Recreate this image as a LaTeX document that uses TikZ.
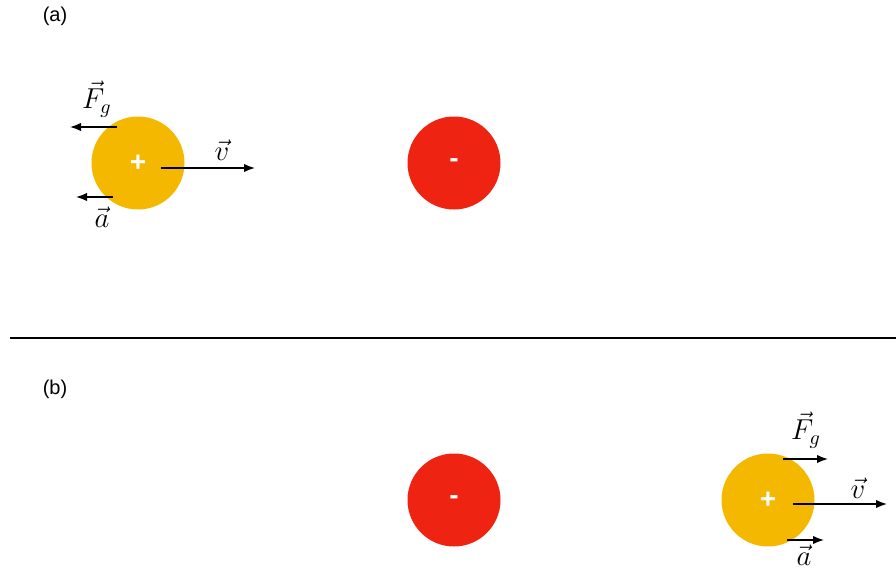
\documentclass[tikz,border=0pt]{standalone}
\usepackage{fontspec}
\newfontfamily\panelfont{Liberation Sans}
\usetikzlibrary{arrows.meta,positioning}
\definecolor{poscharge}{HTML}{F5B800}
\definecolor{negcharge}{HTML}{EE2311}

\begin{document}
\begin{tikzpicture}[x=0.5pt, y=-0.5pt,
  charge/.style={circle, minimum size=46.5pt, inner sep=0pt, text=white,
    font=\panelfont\bfseries\fontsize{14}{14}\selectfont},
  vec/.style={-{Latex[length=5.5pt,width=4.2pt]}, line width=0.75pt},
  panel/.style={font=\panelfont\fontsize{10}{12}\selectfont},
  veclabel/.style={font=\fontsize{14}{16}\selectfont, inner sep=0pt}]
  \useasboundingbox (0,0) rectangle (896,573);

  % panel (a): positive charge moving away from the negative one
  \node[panel] (labA) at (55,16) {(a)};
  \node[charge, fill=poscharge] (posA) at (138,163) {\raisebox{-1pt}{+}};
  \node[charge, fill=negcharge] (negA) at (454,163) {-};
  \coordinate (vA0) at (161,168);  \coordinate (vA1) at (255,168);
  \coordinate (fA0) at (117,127);  \coordinate (fA1) at (70,127);
  \coordinate (aA0) at (113,197);  \coordinate (aA1) at (76,197);
  \draw[vec] (vA0) -- (vA1);
  \draw[vec] (fA0) -- (fA1);
  \draw[vec] (aA0) -- (aA1);
  \node[veclabel] (lvA) at (222,150) {$\vec{v}$};
  \node[veclabel] (lfA) at (97,99) {$\vec{F}_g$};
  \node[veclabel] (laA) at (102,217) {$\vec{a}$};

  % divider between the two panels
  \coordinate (divL) at (10,338);  \coordinate (divR) at (896,338);
  \draw[line width=0.75pt] (divL) -- (divR);

  % panel (b): positive charge after passing the negative one
  \node[panel] (labB) at (55,389) {(b)};
  \node[charge, fill=negcharge] (negB) at (454,500) {-};
  \node[charge, fill=poscharge] (posB) at (768,500) {\raisebox{-1pt}{+}};
  \coordinate (vB0) at (793,504);  \coordinate (vB1) at (887,504);
  \coordinate (fB0) at (783,459);  \coordinate (fB1) at (828,459);
  \coordinate (aB0) at (787,540);  \coordinate (aB1) at (824,540);
  \draw[vec] (vB0) -- (vB1);
  \draw[vec] (fB0) -- (fB1);
  \draw[vec] (aB0) -- (aB1);
  \node[veclabel] (lvB) at (858,488) {$\vec{v}$};
  \node[veclabel] (lfB) at (806,430) {$\vec{F}_g$};
  \node[veclabel] (laB) at (804,555) {$\vec{a}$};
\end{tikzpicture}
\end{document}
